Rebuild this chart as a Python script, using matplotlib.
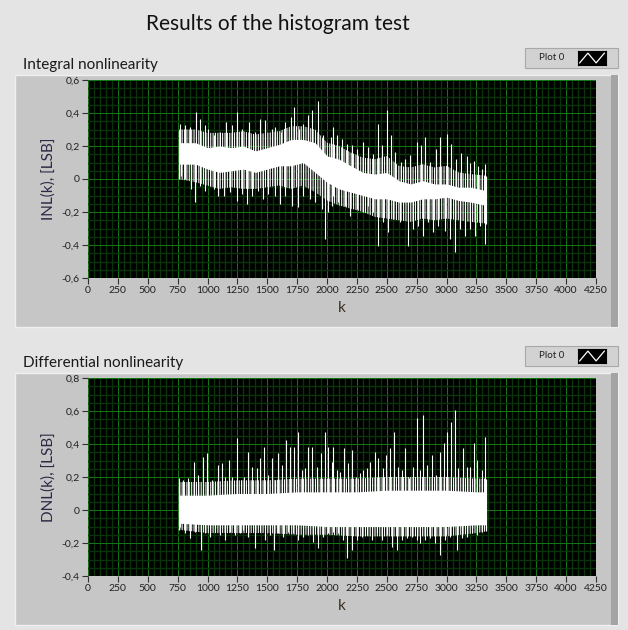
import numpy as np
import matplotlib
matplotlib.use("Agg")
import matplotlib.pyplot as plt
from matplotlib.patches import Rectangle
from matplotlib.ticker import MultipleLocator, FuncFormatter

plt.rcParams['font.family'] = ['Lato', 'DejaVu Sans']
plt.rcParams['hatch.linewidth'] = 0.8

# INL: solid core of the trace (lower/upper edge) at a few k nodes
inl_core_k = [760, 900, 1000, 1100, 1200, 1300, 1400, 1500, 1600, 1700, 1800, 1900, 2000,
              2100, 2200, 2300, 2400, 2500, 2600, 2700, 2800, 2900, 3000, 3100, 3200, 3330]
inl_core_hi = [0.22, 0.22, 0.19, 0.20, 0.19, 0.20, 0.17, 0.19, 0.21, 0.24, 0.24, 0.22, 0.14,
               0.12, 0.08, 0.04, 0.03, 0.04, -0.01, -0.03, -0.01, -0.03, -0.03, -0.05, -0.05, -0.07]
inl_core_lo = [0.09, 0.09, 0.06, 0.04, 0.05, 0.06, 0.04, 0.06, 0.08, 0.08, 0.10, 0.04, -0.02,
               -0.06, -0.08, -0.10, -0.12, -0.12, -0.14, -0.14, -0.12, -0.12, -0.11, -0.13, -0.14, -0.16]
# INL: dense fringe of short spikes around the core
inl_fringe_hi = [0.30, 0.30, 0.28, 0.28, 0.28, 0.29, 0.27, 0.28, 0.29, 0.32, 0.32, 0.30, 0.22,
                 0.20, 0.16, 0.13, 0.12, 0.14, 0.08, 0.07, 0.09, 0.07, 0.08, 0.04, 0.03, 0.02]
inl_fringe_lo = [0.00, -0.02, -0.04, -0.06, -0.05, -0.06, -0.06, -0.05, -0.04, -0.06, -0.04, -0.08,
                 -0.13, -0.16, -0.18, -0.20, -0.23, -0.24, -0.25, -0.26, -0.24, -0.25, -0.24, -0.25,
                 -0.26, -0.27]

# INL spikes (k, tip value)
inl_up_k = [767, 811, 853, 901, 937, 979, 1007, 1057, 1104, 1155, 1208, 1249, 1286, 1347, 1397,
            1442, 1481, 1537, 1565, 1615, 1648, 1696, 1724, 1765, 1802, 1843, 1871, 1921, 1969,
            2033, 2052, 2086, 2122, 2164, 2206, 2248, 2304, 2345, 2387, 2429, 2457, 2499, 2532,
            2568, 2616, 2652, 2694, 2750, 2783, 2819, 2861, 2911, 2945, 3001, 3034, 3079, 3118,
            3168, 3196, 3229, 3266, 3294, 3321]
inl_up_v = [0.336, 0.326, 0.316, 0.407, 0.366, 0.326, 0.306, 0.265, 0.285, 0.346, 0.326, 0.407,
            0.306, 0.346, 0.285, 0.366, 0.356, 0.306, 0.316, 0.285, 0.346, 0.377, 0.437, 0.306,
            0.336, 0.387, 0.417, 0.472, 0.265, 0.255, 0.316, 0.265, 0.245, 0.214, 0.204, 0.184,
            0.224, 0.194, 0.153, 0.336, 0.204, 0.417, 0.265, 0.164, 0.103, 0.123, 0.143, 0.224,
            0.204, 0.255, 0.103, 0.184, 0.255, 0.275, 0.214, 0.120, 0.160, 0.140, 0.100, 0.110,
            0.080, 0.060, 0.093]
inl_dn_k = [778, 811, 862, 895, 937, 979, 1021, 1057, 1090, 1141, 1188, 1244, 1286, 1327, 1369,
            1425, 1467, 1509, 1565, 1606, 1648, 1704, 1754, 1802, 1857, 1899, 1955, 1983, 2011,
            2039, 2052, 2094, 2150, 2192, 2248, 2304, 2345, 2387, 2429, 2471, 2513, 2554, 2610,
            2680, 2722, 2764, 2806, 2847, 2889, 2931, 2987, 3029, 3070, 3112, 3154, 3196, 3238,
            3280, 3321]
inl_dn_v = [0.021, 0.001, -0.060, -0.141, -0.040, -0.070, -0.040, -0.060, -0.100, -0.100, -0.080,
            -0.131, -0.090, -0.151, -0.100, -0.070, -0.121, -0.090, -0.100, -0.151, -0.100, -0.161,
            -0.171, -0.100, -0.121, -0.141, -0.181, -0.364, -0.202, -0.161, -0.100, -0.141, -0.161,
            -0.222, -0.181, -0.202, -0.161, -0.202, -0.405, -0.263, -0.324, -0.242, -0.263, -0.405,
            -0.303, -0.283, -0.344, -0.263, -0.324, -0.283, -0.314, -0.364, -0.445, -0.303, -0.344,
            -0.303, -0.344, -0.283, -0.395]

# DNL core and fringe
dnl_core_k = [765, 1000, 1250, 1500, 1750, 2000, 2250, 2500, 2750, 3000, 3250, 3330]
dnl_core_hi = [0.09, 0.09, 0.10, 0.10, 0.11, 0.11, 0.11, 0.12, 0.12, 0.12, 0.11, 0.11]
dnl_core_lo = [-0.08, -0.09, -0.09, -0.09, -0.09, -0.10, -0.10, -0.10, -0.10, -0.10, -0.09, -0.09]
dnl_fringe_hi = [0.17, 0.17, 0.18, 0.18, 0.19, 0.19, 0.19, 0.20, 0.20, 0.20, 0.19, 0.19]
dnl_fringe_lo = [-0.12, -0.14, -0.14, -0.14, -0.15, -0.15, -0.16, -0.16, -0.16, -0.16, -0.14, -0.13]

dnl_up_k = [765, 798, 839, 890, 923, 959, 993, 1035, 1085, 1118, 1146, 1180, 1208, 1244, 1280,
            1308, 1336, 1375, 1411, 1439, 1472, 1509, 1542, 1565, 1592, 1626, 1659, 1690, 1723,
            1754, 1788, 1816, 1843, 1877, 1913, 1949, 1983, 2011, 2039, 2047, 2080, 2108, 2142,
            2178, 2206, 2242, 2276, 2304, 2331, 2359, 2401, 2429, 2465, 2493, 2527, 2560, 2596,
            2624, 2652, 2688, 2722, 2750, 2778, 2805, 2839, 2875, 2911, 2945, 2978, 3006, 3034,
            3070, 3098, 3135, 3168, 3196, 3229, 3257, 3294, 3321]
dnl_up_v = [0.192, 0.182, 0.192, 0.293, 0.212, 0.323, 0.343, 0.182, 0.273, 0.283, 0.202, 0.303,
            0.202, 0.434, 0.182, 0.202, 0.354, 0.263, 0.253, 0.313, 0.384, 0.212, 0.313, 0.182,
            0.343, 0.273, 0.424, 0.384, 0.384, 0.475, 0.242, 0.253, 0.384, 0.384, 0.263, 0.343,
            0.475, 0.384, 0.293, 0.384, 0.242, 0.232, 0.374, 0.283, 0.364, 0.202, 0.222, 0.242,
            0.253, 0.293, 0.354, 0.313, 0.253, 0.333, 0.374, 0.475, 0.263, 0.242, 0.374, 0.192,
            0.263, 0.556, 0.242, 0.576, 0.273, 0.333, 0.212, 0.354, 0.404, 0.475, 0.535, 0.606,
            0.253, 0.374, 0.263, 0.263, 0.404, 0.303, 0.242, 0.444]
dnl_dn_k = [770, 811, 853, 895, 945, 979, 1021, 1062, 1104, 1146, 1188, 1230, 1272, 1300, 1341,
            1397, 1439, 1481, 1523, 1559, 1592, 1634, 1676, 1718, 1760, 1802, 1843, 1885, 1927,
            1969, 2011, 2053, 2094, 2136, 2170, 2206, 2248, 2290, 2331, 2373, 2415, 2457, 2499,
            2541, 2582, 2624, 2666, 2708, 2750, 2778, 2819, 2861, 2903, 2945, 2987, 3029, 3084,
            3126, 3168, 3210, 3252, 3294]
dnl_dn_v = [-0.101, -0.141, -0.172, -0.131, -0.242, -0.141, -0.162, -0.131, -0.151, -0.182,
            -0.131, -0.151, -0.141, -0.121, -0.162, -0.232, -0.131, -0.182, -0.151, -0.242, -0.141,
            -0.162, -0.131, -0.141, -0.182, -0.162, -0.151, -0.192, -0.232, -0.162, -0.141, -0.131,
            -0.141, -0.182, -0.293, -0.242, -0.182, -0.162, -0.151, -0.182, -0.141, -0.182, -0.151,
            -0.222, -0.242, -0.182, -0.172, -0.162, -0.182, -0.202, -0.182, -0.172, -0.202, -0.273,
            -0.182, -0.162, -0.242, -0.172, -0.162, -0.141, -0.151, -0.131]

fig = plt.figure(figsize=(6.28, 6.30), dpi=100)
fig.patch.set_facecolor('#e4e4e4')

W, H = 628.0, 630.0


def px_rect(x0, y0, x1, y1, **kw):
    # rectangle given in pixel coordinates (top-down), kept behind the axes
    r = Rectangle((x0 / W, 1 - y1 / H), (x1 - x0) / W, (y1 - y0) / H,
                  transform=fig.transFigure, zorder=-10, **kw)
    fig.patches.append(r)


def fmt(v, pos):
    if abs(v) < 1e-9:
        return '0'
    return ('%.1f' % v).replace('.', ',')


def panel(top, bottom, label, ylabel, ylim, legend_y, core, fringe, spikes):
    # grey frame
    px_rect(15, top - 5, 618, bottom, facecolor='#c6c6c6', edgecolor='#efefef', lw=1.0)
    px_rect(611, top - 5, 618, bottom, facecolor='#a4a4a4', edgecolor='none')
    fig.text(23 / W, 1 - (top - 11) / H, label, fontsize=11, color='#1a1a1a', va='baseline')
    # legend box
    px_rect(525, legend_y, 618, legend_y + 20, facecolor='#d2d2d2', edgecolor='#a8a8a8', lw=0.8)
    fig.text(552 / W, 1 - (legend_y + 10) / H, 'Plot 0', fontsize=7, color='#202020',
             ha='center', va='center')
    ic = fig.add_axes([578 / W, 1 - (legend_y + 17) / H, 28 / W, 14 / H])
    ic.set_facecolor('black')
    ic.plot([0, 1, 2, 3], [0.15, 0.85, 0.15, 0.85], color='white', lw=0.9)
    ic.set_xlim(-0.2, 3.2)
    ic.set_ylim(0, 1)
    ic.set_xticks([])
    ic.set_yticks([])

    ax = fig.add_axes([88 / W, 1 - (top + 198) / H, 508 / W, 198 / H])
    ax.set_facecolor('black')
    ax.set_xlim(0, 4250)
    ax.set_ylim(*ylim)
    ax.xaxis.set_major_locator(MultipleLocator(250))
    ax.xaxis.set_minor_locator(MultipleLocator(50))
    ax.yaxis.set_major_locator(MultipleLocator(0.2))
    ax.yaxis.set_minor_locator(MultipleLocator(0.05))
    ax.yaxis.set_major_formatter(FuncFormatter(fmt))
    ax.grid(which='major', color='#127412', lw=0.75)
    ax.grid(which='minor', color='#093409', lw=1.0)
    ax.set_axisbelow(True)
    ax.tick_params(which='minor', length=0)
    ax.tick_params(which='major', length=4, width=0.8, color='#303030', labelsize=7.5,
                   labelcolor='#202020', pad=2)
    for s in ax.spines.values():
        s.set_visible(False)
    ax.set_xlabel('k', fontsize=11, color='#3a3020', labelpad=4)
    ax.set_ylabel(ylabel, fontsize=11, color='#2a2a44', labelpad=4)

    ck, chi, clo = core
    fhi, flo = fringe
    # dense short spikes around the core, drawn as a vertical hatch
    ax.fill_between(ck, flo, fhi, facecolor='none', edgecolor='#f4f4f4', hatch='|' * 7, lw=0,
                    zorder=3)
    mid_k = np.array(ck)
    mid_v = (np.array(chi) + np.array(clo)) / 2
    uk, uv, dk, dv = spikes
    ax.vlines(uk, np.interp(uk, mid_k, mid_v), uv, color='white', lw=0.8, zorder=4)
    ax.vlines(dk, dv, np.interp(dk, mid_k, mid_v), color='white', lw=0.8, zorder=4)
    ax.fill_between(ck, clo, chi, color='white', lw=0, zorder=5)
    ax.vlines([ck[0], ck[-1]], [flo[0], flo[-1]], [fhi[0], fhi[-1]], color='white', lw=0.9,
              zorder=5)
    return ax


panel(80, 327, 'Integral nonlinearity', 'INL(k), [LSB]', (-0.6, 0.6), 48,
      (inl_core_k, inl_core_hi, inl_core_lo), (inl_fringe_hi, inl_fringe_lo),
      (inl_up_k, inl_up_v, inl_dn_k, inl_dn_v))
panel(378, 625, 'Differential nonlinearity', 'DNL(k), [LSB]', (-0.4, 0.8), 346,
      (dnl_core_k, dnl_core_hi, dnl_core_lo), (dnl_fringe_hi, dnl_fringe_lo),
      (dnl_up_k, dnl_up_v, dnl_dn_k, dnl_dn_v))

fig.text(278 / W, 1 - 24 / H, 'Results of the histogram test', fontsize=15, color='#111111',
         ha='center', va='center')

fig.savefig('out.png', dpi=100, facecolor=fig.get_facecolor())
